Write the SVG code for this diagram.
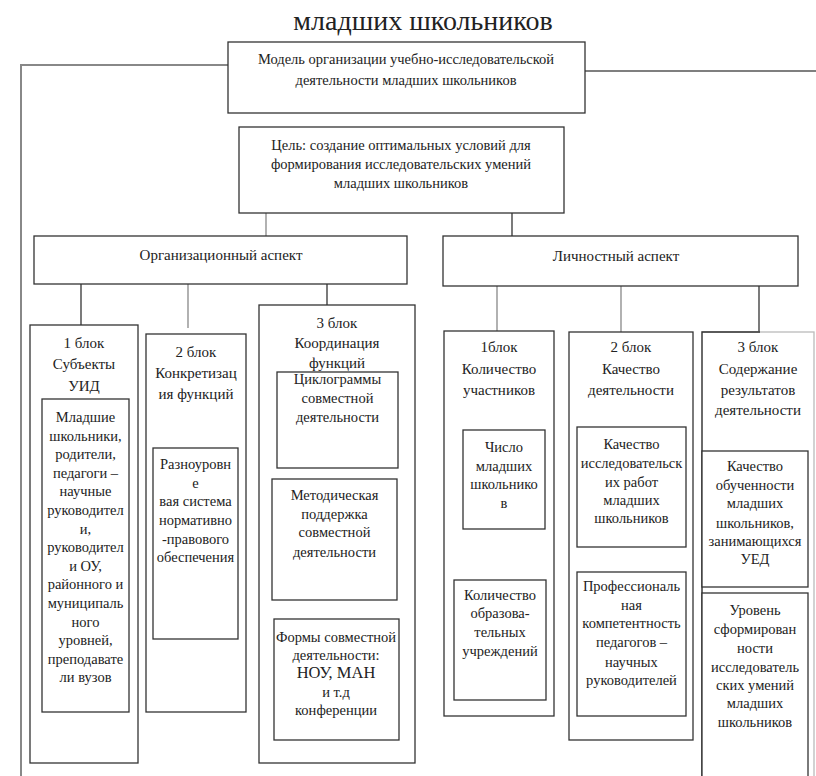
<svg xmlns="http://www.w3.org/2000/svg" width="816" height="776" viewBox="0 0 816 776" font-family="Liberation Serif, serif">
<style>
text{fill:#222;text-anchor:middle}
.t{font-size:28px}
.h{font-size:14.5px}
.b{font-size:15px}
.s{font-size:14.5px}
rect{fill:#fff;stroke:#333;stroke-width:1.3}
.c line,.c path{stroke:#333;stroke-width:1.3;fill:none}
.c .g{stroke:#888}
</style>
<rect x="0" y="0" width="816" height="776" style="stroke:none"/>
<text class="t" x="423" y="30">младших школьников</text>

<g class="c" id="connectors">
<path class="g" d="M228,65 H21 V776" style="stroke-width:2"/>
<line x1="585" y1="71" x2="816" y2="71" style="stroke:#555"/>
<line class="g" x1="266" y1="213" x2="266" y2="236"/>
<line x1="512" y1="213" x2="512" y2="236"/>
<line x1="81" y1="284" x2="81" y2="325"/>
<line class="g" x1="188" y1="284" x2="188" y2="328"/>
<line x1="327" y1="284" x2="327" y2="305"/>
<line class="g" x1="497" y1="286" x2="497" y2="331"/>
<line class="g" x1="621" y1="286" x2="621" y2="332"/>
<line x1="759" y1="286" x2="759" y2="332"/>
</g>

<g id="model">
<rect x="228" y="42" width="357" height="71"/>
<text class="h" x="406" y="64">Модель организации учебно-исследовательской</text>
<text class="h" x="406" y="85">деятельности младших школьников</text>
</g>

<g id="goal">
<rect x="239" y="127" width="325" height="86"/>
<text class="h" x="401" y="150">Цель: создание оптимальных условий для</text>
<text class="h" x="401" y="169">формирования исследовательских умений</text>
<text class="h" x="401" y="188">младших школьников</text>
</g>

<g id="org">
<rect x="34" y="236" width="373" height="48"/>
<text class="b" x="221" y="260">Организационный аспект</text>
</g>

<g id="pers">
<rect x="443" y="236" width="355" height="50"/>
<text class="b" x="616" y="261">Личностный аспект</text>
</g>

<g id="block1">
<rect x="30" y="325" width="108" height="438"/>
<text class="b" x="84" y="348">1 блок</text>
<text class="b" x="84" y="369">Субъекты</text>
<text class="b" x="84" y="391">УИД</text>
<rect x="42" y="399" width="87" height="313"/>
<text class="s" x="85.5" y="422">Младшие</text>
<text class="s" x="85.5" y="441">школьники,</text>
<text class="s" x="85.5" y="459">родители,</text>
<text class="s" x="85.5" y="478">педагоги –</text>
<text class="s" x="85.5" y="496">научные</text>
<text class="s" x="85.5" y="515">руководител</text>
<text class="s" x="85.5" y="534">и,</text>
<text class="s" x="85.5" y="552">руководител</text>
<text class="s" x="85.5" y="571">и ОУ,</text>
<text class="s" x="85.5" y="589">районного и</text>
<text class="s" x="85.5" y="608">муниципаль</text>
<text class="s" x="85.5" y="627">ного</text>
<text class="s" x="85.5" y="645">уровней,</text>
<text class="s" x="85.5" y="664">преподавате</text>
<text class="s" x="85.5" y="682">ли  вузов</text>
</g>

<g id="block2">
<rect x="146" y="334" width="100" height="378"/>
<text class="b" x="196" y="357">2 блок</text>
<text class="b" x="196" y="378">Конкретизац</text>
<text class="b" x="196" y="399">ия функций</text>
<rect x="153" y="448" width="85" height="191"/>
<text class="s" x="195.5" y="469">Разноуровн</text>
<text class="s" x="195.5" y="488">е</text>
<text class="s" x="195.5" y="506">вая система</text>
<text class="s" x="195.5" y="525">нормативно</text>
<text class="s" x="195.5" y="544">-правового</text>
<text class="s" x="195.5" y="562">обеспечения</text>
</g>

<g id="block3">
<rect x="259" y="305" width="156" height="458"/>
<text class="b" x="337" y="328">3 блок</text>
<text class="b" x="337" y="348">Координация</text>
<text class="b" x="337" y="368">функций</text>
</g>
<g id="cyclo">
<rect x="277" y="372" width="121" height="96"/>
<text class="s" x="337.5" y="384">Циклограммы</text>
<text class="s" x="337.5" y="403">совместной</text>
<text class="s" x="337.5" y="422">деятельности</text>
</g>
<g id="method">
<rect x="272" y="479" width="125" height="121"/>
<text class="s" x="334.5" y="500">Методическая</text>
<text class="s" x="334.5" y="519">поддержка</text>
<text class="s" x="334.5" y="537">совместной</text>
<text class="s" x="334.5" y="557">деятельности</text>
</g>
<g id="forms">
<rect x="274" y="619" width="125" height="121"/>
<text class="s" x="336" y="642">Формы совместной</text>
<text class="s" x="336" y="660">деятельности:</text>
<text class="b" x="336" y="678" style="font-size:16.5px">НОУ, МАН</text>
<text class="s" x="336" y="697">и т.д</text>
<text class="s" x="336" y="715">конференции</text>
</g>

<g id="p1">
<rect x="444" y="331" width="110" height="385"/>
<text class="b" x="499" y="352">1блок</text>
<text class="b" x="499" y="374">Количество</text>
<text class="b" x="499" y="395">участников</text>
<rect x="463" y="430" width="82" height="99"/>
<text class="s" x="504" y="452">Число</text>
<text class="s" x="504" y="471">младших</text>
<text class="s" x="504" y="489">школьнико</text>
<text class="s" x="504" y="508">в</text>
<rect x="454" y="580" width="92" height="120"/>
<text class="s" x="500" y="600">Количество</text>
<text class="s" x="500" y="618">образова-</text>
<text class="s" x="500" y="637">тельных</text>
<text class="s" x="500" y="656">учреждений</text>
</g>

<g id="p2">
<rect x="569" y="332" width="124" height="408"/>
<text class="b" x="631" y="352">2 блок</text>
<text class="b" x="631" y="374">Качество</text>
<text class="b" x="631" y="395">деятельности</text>
<rect x="577" y="427" width="109" height="120"/>
<text class="s" x="631.5" y="449">Качество</text>
<text class="s" x="631.5" y="468">исследовательск</text>
<text class="s" x="631.5" y="487">их работ</text>
<text class="s" x="631.5" y="505">младших</text>
<text class="s" x="631.5" y="523">школьников</text>
<rect x="577" y="572" width="109" height="144"/>
<text class="s" x="631.5" y="591">Профессиональ</text>
<text class="s" x="631.5" y="610">ная</text>
<text class="s" x="631.5" y="628">компетентность</text>
<text class="s" x="631.5" y="647">педагогов –</text>
<text class="s" x="631.5" y="667">научных</text>
<text class="s" x="631.5" y="685">руководителей</text>
</g>

<g id="p3">
<rect x="702" y="332" width="112" height="460" style="stroke:#bbb"/>
<path d="M702,790 V332 H760" style="stroke:#333;stroke-width:1.3;fill:none"/>
<text class="b" x="758" y="352">3 блок</text>
<text class="b" x="758" y="374">Содержание</text>
<text class="b" x="758" y="395">результатов</text>
<text class="b" x="758" y="415">деятельности</text>
<rect x="702" y="451" width="106" height="136"/>
<text class="s" x="755" y="471">Качество</text>
<text class="s" x="755" y="490">обученности</text>
<text class="s" x="755" y="508">младших</text>
<text class="s" x="755" y="528">школьников,</text>
<text class="s" x="755" y="546">занимающихся</text>
<text class="s" x="755" y="564">УЕД</text>
<rect x="702" y="593" width="106" height="200"/>
<text class="s" x="755" y="615">Уровень</text>
<text class="s" x="755" y="634">сформирован</text>
<text class="s" x="755" y="653">ности</text>
<text class="s" x="755" y="672">исследователь</text>
<text class="s" x="755" y="690">ских умений</text>
<text class="s" x="755" y="708">младших</text>
<text class="s" x="755" y="727">школьников</text>
</g>
</svg>
